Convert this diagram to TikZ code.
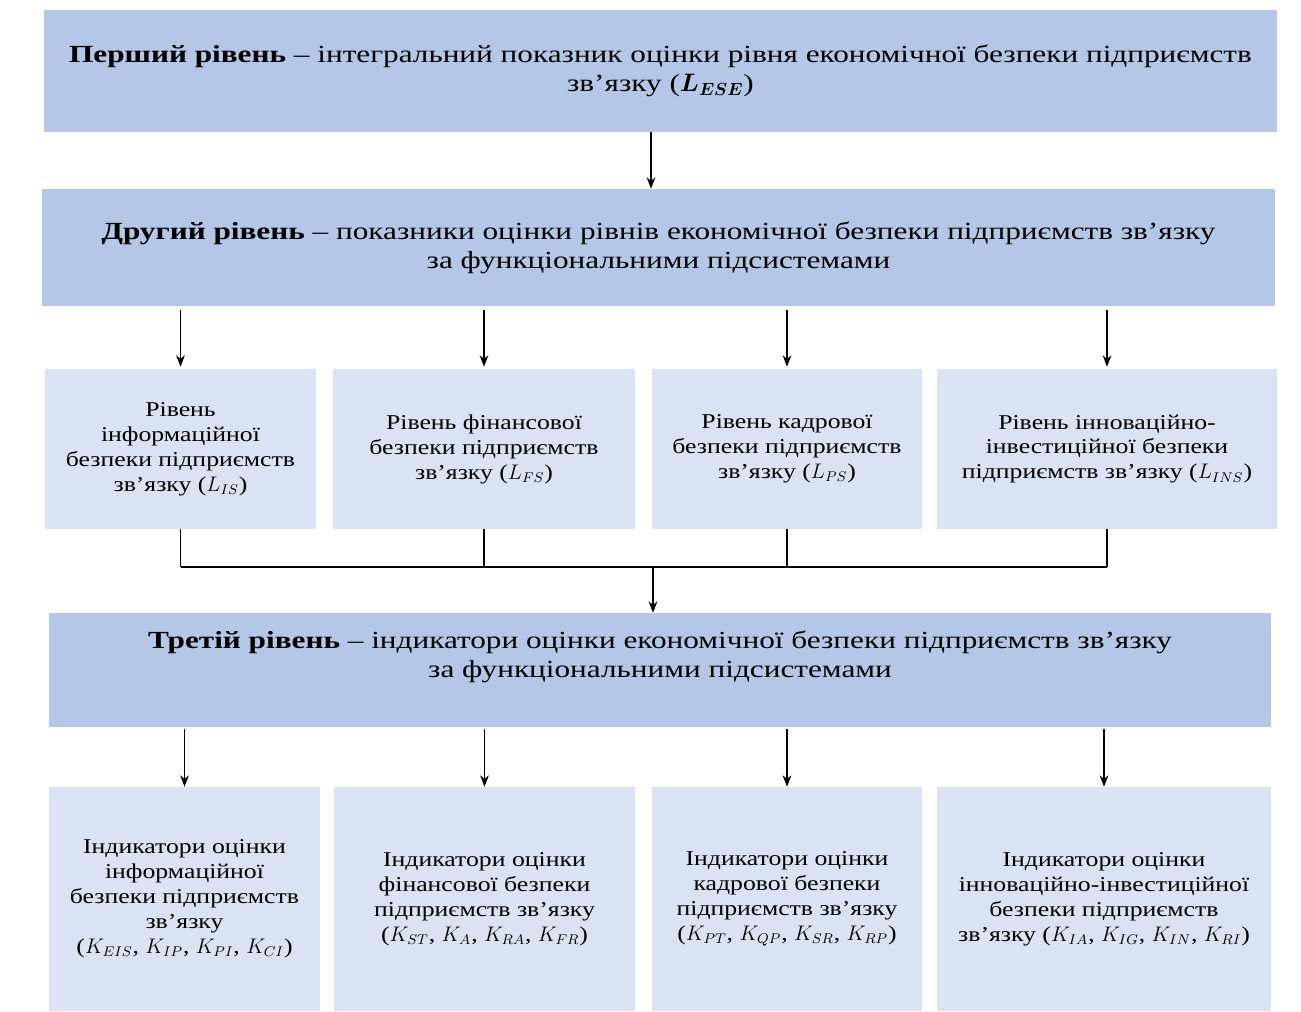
\documentclass[tikz,border=0pt]{standalone}
\usepackage{amsmath}
\usepackage{fontspec}
\setmainfont{Liberation Serif}[FakeStretch=1.22]
\newfontfamily\levelfont{Liberation Serif}[FakeStretch=1.27]
\usetikzlibrary{arrows.meta}
\definecolor{levelblue}{RGB}{180,199,231}
\definecolor{subblue}{RGB}{218,227,243}
\begin{document}
\begin{tikzpicture}[
    level/.style={fill=levelblue,minimum height=#1,align=center,inner sep=0pt,
      font=\levelfont\fontsize{14}{16.5}\selectfont},
    subbox/.style={fill=subblue,align=center,inner sep=0pt,
      font=\fontsize{12}{14.2}\selectfont},
    link/.style={line width=0.6pt},
    arr/.style={link,-{Stealth[length=6.5pt,width=5pt]}}]
    \useasboundingbox (0,0) rectangle (26.02,-20.22);

    % First level
    \node[level=2.44cm,minimum width=24.66cm] (lvlone) at (13.21,-1.42)
      {\textbf{Перший рівень} – інтегральний показник оцінки рівня економічної безпеки підприємств\\
       зв’язку ($\boldsymbol{L_{ESE}}$)};

    % Second level
    \node[level=2.34cm,minimum width=24.66cm] (lvltwo) at (13.17,-4.95)
      {\textbf{Другий рівень} – показники оцінки рівнів економічної безпеки підприємств зв’язку\\
       за функціональними підсистемами};

    % Subsystem levels
    \node[subbox,minimum width=5.42cm,minimum height=3.2cm] (lis) at (3.61,-8.98)
      {Рівень\\ інформаційної\\ безпеки підприємств\\ зв’язку ($L_{IS}$)};
    \node[subbox,minimum width=6.04cm,minimum height=3.2cm] (lfs) at (9.68,-8.98)
      {Рівень фінансової\\ безпеки підприємств\\ зв’язку ($L_{FS}$)};
    \node[subbox,minimum width=5.40cm,minimum height=3.2cm] (lps) at (15.74,-8.98)
      {Рівень кадрової\\ безпеки підприємств\\ зв’язку ($L_{PS}$)};
    \node[subbox,minimum width=6.80cm,minimum height=3.2cm] (lins) at (22.14,-8.98)
      {Рівень інноваційно-\\ інвестиційної безпеки\\ підприємств зв’язку ($L_{INS}$)};

    % Third level
    \node[level=2.28cm,minimum width=24.44cm] (lvlthree) at (13.20,-13.40)
      {\textbf{Третій рівень} – індикатори оцінки економічної безпеки підприємств зв’язку\\
       за функціональними підсистемами\\[0.1em]};

    % Indicators
    \node[subbox,minimum width=5.42cm,minimum height=4.48cm] (kis) at (3.69,-17.98)
      {Індикатори оцінки\\ інформаційної\\ безпеки підприємств\\ зв’язку\\
       ($K_{EIS}$, $K_{IP}$, $K_{PI}$, $K_{CI}$)};
    \node[subbox,minimum width=6.02cm,minimum height=4.48cm] (kfs) at (9.69,-17.98)
      {Індикатори оцінки\\ фінансової безпеки\\ підприємств зв’язку\\
       ($K_{ST}$, $K_{A}$, $K_{RA}$, $K_{FR}$)};
    \node[subbox,minimum width=5.40cm,minimum height=4.48cm] (kps) at (15.74,-17.98)
      {Індикатори оцінки\\ кадрової безпеки\\ підприємств зв’язку\\
       ($K_{PT}$, $K_{QP}$, $K_{SR}$, $K_{RP}$)};
    \node[subbox,minimum width=6.68cm,minimum height=4.48cm] (kins) at (22.08,-17.98)
      {Індикатори оцінки\\ інноваційно-інвестиційної\\ безпеки підприємств\\
       зв’язку ($K_{IA}$, $K_{IG}$, $K_{IN}$, $K_{RI}$)};

    % Arrows between levels
    \draw[arr] (lvlone.south -| 13.02,0) -- (lvltwo.north -| 13.02,0);
    \foreach \n in {lis,lfs,lps,lins}
      \draw[arr,shorten <=0.08cm,shorten >=0.04cm] (lvltwo.south -| \n.north) -- (\n.north);
    \foreach \n in {kis,kfs,kps,kins}
      \draw[arr,shorten <=0.04cm] (lvlthree.south -| \n.north) -- (\n.north);

    % Collecting line
    \coordinate (join) at (13.06,-11.34);
    \foreach \n in {lis,lfs,lps,lins}
      \draw[link] (\n.south) -- (\n.south |- join);
    \draw[link] (lis.south |- join) -- (lins.south |- join);
    \draw[arr] (join) -- (join |- lvlthree.north);
\end{tikzpicture}
\end{document}
